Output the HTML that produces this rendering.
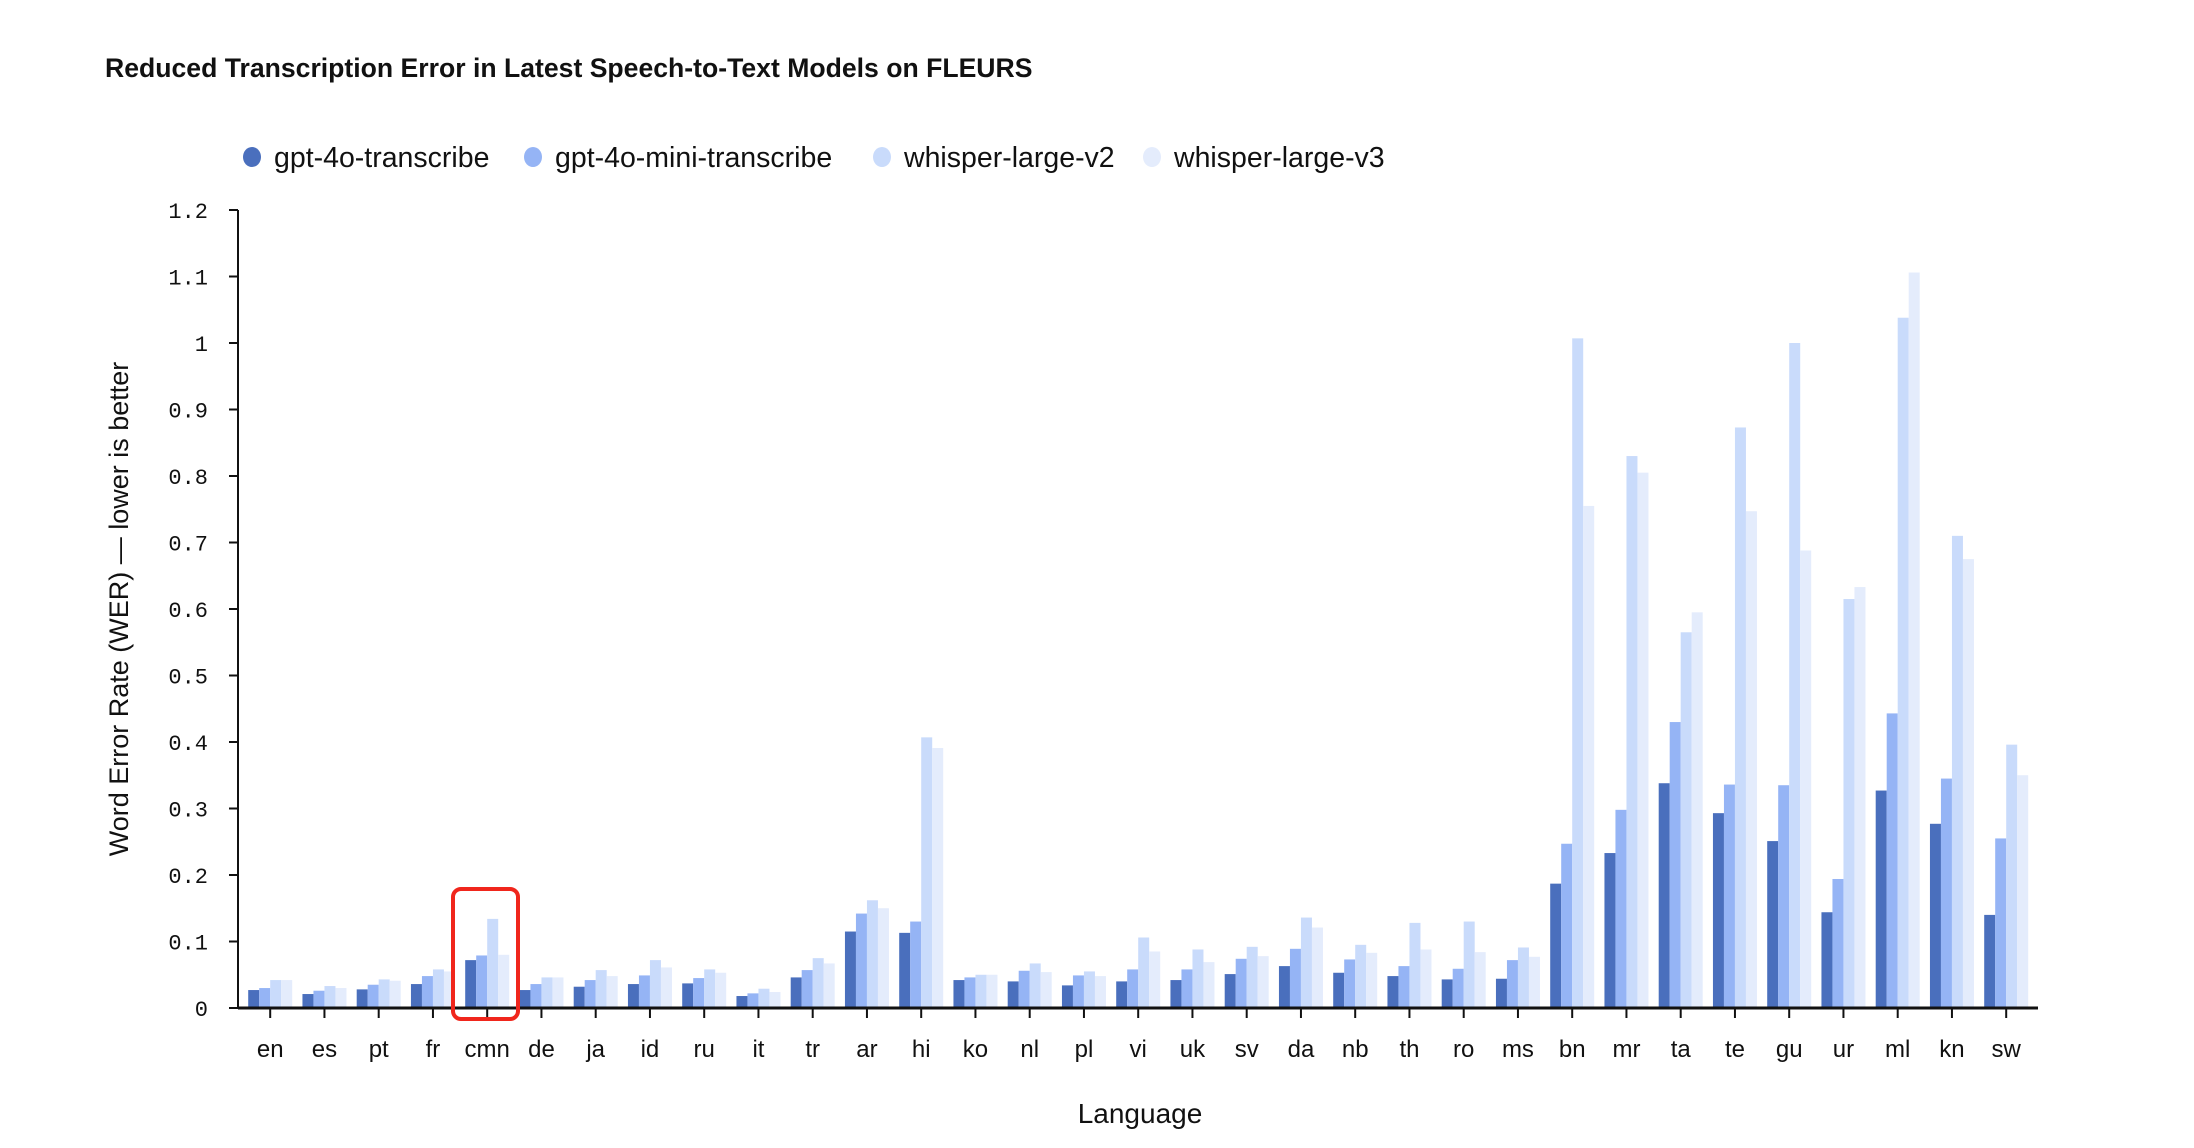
<!DOCTYPE html>
<html><head><meta charset="utf-8"><style>
html,body{margin:0;padding:0;background:#fff;}
svg{display:block;}
text{font-family:"Liberation Sans",sans-serif;fill:#111;}
.mono{font-family:"Liberation Mono",monospace;}
</style></head><body>
<svg id="chart" width="2194" height="1148" viewBox="0 0 2194 1148">
<text x="105" y="77" font-size="26.6" font-weight="bold">Reduced Transcription Error in Latest Speech-to-Text Models on FLEURS</text>
<g id="legend"></g>
<g id="yaxis"></g>
<g id="bars"></g>
<g id="xaxis"></g>
<text x="128" y="609" font-size="27" text-anchor="middle" transform="rotate(-90 128 609)">Word Error Rate (WER) — lower is better</text>
<text x="1140" y="1123" font-size="28" text-anchor="middle">Language</text>
<rect x="453" y="889" width="65" height="130" rx="8" fill="none" stroke="#f0261c" stroke-width="4"/>
</svg>
<script>
const categories=["en","es","pt","fr","cmn","de","ja","id","ru","it","tr","ar","hi","ko","nl","pl","vi","uk","sv","da","nb","th","ro","ms","bn","mr","ta","te","gu","ur","ml","kn","sw"];
const seriesNames=["gpt-4o-transcribe","gpt-4o-mini-transcribe","whisper-large-v2","whisper-large-v3"];
const gpt4o=[.027,.021,.028,.036,.072,.027,.032,.036,.037,.018,.046,.115,.113,.042,.040,.034,.040,.042,.051,.063,.053,.048,.043,.044,.187,.233,.338,.293,.251,.144,.327,.277,.140];
const gpt4oMini=[.030,.026,.035,.048,.079,.036,.042,.049,.045,.022,.057,.142,.130,.046,.056,.049,.058,.058,.074,.089,.073,.063,.059,.072,.247,.298,.430,.336,.335,.194,.443,.345,.255];
const whisperV2=[.042,.033,.043,.058,.134,.046,.057,.072,.058,.029,.075,.162,.407,.050,.067,.055,.106,.088,.092,.136,.095,.128,.130,.091,1.007,.830,.565,.873,1.000,.615,1.038,.710,.396];
const whisperV3=[.042,.030,.041,.055,.080,.046,.048,.061,.053,.024,.067,.150,.391,.050,.054,.048,.085,.069,.078,.121,.083,.088,.084,.077,.755,.805,.595,.747,.688,.633,1.106,.675,.350];
const yTicks=[0,0.1,0.2,0.3,0.4,0.5,0.6,0.7,0.8,0.9,1,1.1,1.2];
const colors=["#4a6fbd","#95b4f5","#c9dbfb","#e4ecfc"];
const NS="http://www.w3.org/2000/svg";
const x0=238,x1=2038,y0=1008,yTop=210,yMax=1.2;
const first=270.2,step=54.25,bw=11;
function yScale(v){return y0-(v/yMax)*(y0-yTop);}
function xScale(i){return first+i*step;}
function mk(tag,attrs,parent){const e=document.createElementNS(NS,tag);for(const k in attrs)e.setAttribute(k,attrs[k]);parent.appendChild(e);return e;}
const series=[gpt4o,gpt4oMini,whisperV2,whisperV3];
const bars=document.getElementById('bars');
series.forEach((s,si)=>{s.forEach((v,i)=>{
 const cx=xScale(i)+(si-2)*bw;
 const r=mk('rect',{x:cx,y:yScale(v),width:bw,height:y0-yScale(v),fill:colors[si]},bars);
 
 
});});
const ya=document.getElementById('yaxis');
const yl=mk('line',{x1:x0,y1:yTop,x2:x0,y2:y0,stroke:'#111','stroke-width':2},ya);


yTicks.forEach(t=>{
 const y=yScale(t);
 mk('line',{x1:x0-9,y1:y,x2:x0,y2:y,stroke:'#111','stroke-width':2},ya);
 const tx=mk('text',{x:x0-30,y:y+8,'font-size':22,'text-anchor':'end','class':'mono'},ya);
 tx.textContent=String(t);
 
 
});
const xa=document.getElementById('xaxis');
const xl=mk('line',{x1:x0,y1:y0,x2:x1,y2:y0,stroke:'#111','stroke-width':3},xa);


categories.forEach((c,i)=>{
 const x=xScale(i);
 mk('line',{x1:x,y1:y0,x2:x,y2:y0+10,stroke:'#111','stroke-width':2},xa);
 const tx=mk('text',{x:x,y:1057,'font-size':24,'text-anchor':'middle'},xa);
 tx.textContent=c;
 
 
});
const lg=document.getElementById('legend');
const lx=[252,533,882,1152];
seriesNames.forEach((n,i)=>{
 const g=mk('g',{},lg);
 
 
 mk('ellipse',{cx:lx[i],cy:157,rx:9,ry:10,fill:colors[i]},g);
 const t=mk('text',{x:lx[i]+22,y:167,'font-size':28.5},g);
 t.textContent=n;
});
</script>
</body></html>
